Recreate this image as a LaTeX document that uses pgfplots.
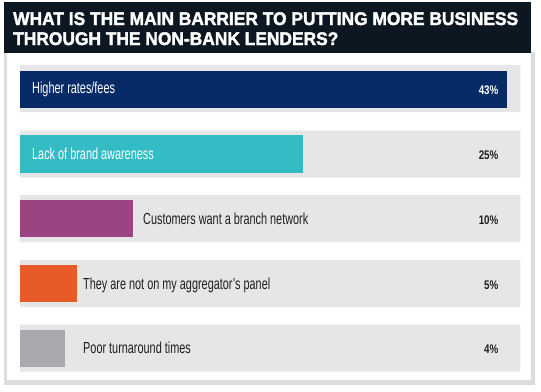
\documentclass[border=0pt]{standalone}
\usepackage{pgfplots}
\pgfplotsset{compat=1.18}
\usepackage{fontspec}
\setmainfont{Liberation Sans}
\newfontfamily\condfont[FakeStretch=0.68]{Liberation Sans}
\newfontfamily\pctfont[FakeStretch=0.78]{Liberation Sans}
\newfontfamily\titlefont[UprightFont={* Bold},FakeBold=2]{Liberation Sans}
\definecolor{headerbg}{HTML}{0C1721}
\definecolor{framegray}{HTML}{DCDCDC}
\definecolor{trackgray}{HTML}{E6E6E8}
\definecolor{cnavy}{HTML}{072B67}
\definecolor{cteal}{HTML}{33BCC4}
\definecolor{cpurple}{HTML}{9A4582}
\definecolor{corange}{HTML}{E85A27}
\definecolor{cgray}{HTML}{A8A9AD}
\definecolor{txt}{HTML}{1E1E1E}
\newsavebox\titleA
\newsavebox\titleB
\begin{document}
\sbox\titleA{\color{white}\titlefont\fontsize{18bp}{20bp}\selectfont WHAT IS THE MAIN BARRIER TO PUTTING MORE BUSINESS}%
\sbox\titleB{\color{white}\titlefont\fontsize{18bp}{20bp}\selectfont THROUGH THE NON-BANK LENDERS?}%
\pgfmathsetmacro\titlesx{505bp/\wd\titleA}%
\begin{tikzpicture}
\begin{scope}[x=1bp,y=-1bp]
\fill[white] (0,0) rectangle (541,391);
\fill[framegray] (3.5,52) rectangle (535,385);
\fill[white] (7,52) rectangle (531,380);
\fill[headerbg] (3.5,2) rectangle (531,52.5);
\node[anchor=base west, inner sep=0, text=white] at (13,25) {\scalebox{\titlesx}[1.02]{\usebox\titleA}};
\node[anchor=base west, inner sep=0, text=white] at (13,45) {\scalebox{\titlesx}[1.02]{\usebox\titleB}};
\end{scope}
\begin{axis}[at={(0,0)}, anchor=north west, width=541bp, height=391bp, scale only axis,
  xmin=-1.7668, xmax=46.025, ymin=0, ymax=391, y dir=reverse, hide axis,
  xbar, bar shift=0pt, clip=false]
\addplot[fill=trackgray, draw=none, bar width=47bp] coordinates {(44.2,88.5) (44.2,154) (44.2,218.5) (44.2,283.5) (44.2,348)};
\addplot[fill=cnavy, draw=none, bar width=37bp] coordinates {(43,89.5)};
\addplot[fill=cteal, draw=none, bar width=38bp] coordinates {(25,154)};
\addplot[fill=cpurple, draw=none, bar width=37bp] coordinates {(10,218.5)};
\addplot[fill=corange, draw=none, bar width=37bp] coordinates {(5,283.5)};
\addplot[fill=cgray, draw=none, bar width=37bp] coordinates {(4,348.5)};
\end{axis}
\begin{scope}[x=1bp,y=-1bp, every node/.style={inner sep=0}]
\node[anchor=base west, text=white, font=\condfont\fontsize{16bp}{18bp}\selectfont] at (32,93.5) {Higher rates/fees};
\node[anchor=base west, text=white, font=\condfont\fontsize{16bp}{18bp}\selectfont] at (32,159) {Lack of brand awareness};
\node[anchor=base west, text=txt, font=\condfont\fontsize{16bp}{18bp}\selectfont] at (143,224) {Customers want a branch network};
\node[anchor=base west, text=txt, font=\condfont\fontsize{16bp}{18bp}\selectfont] at (83,289) {They are not on my aggregator’s panel};
\node[anchor=base west, text=txt, font=\condfont\fontsize{16bp}{18bp}\selectfont] at (83,353.5) {Poor turnaround times};
\node[anchor=base east, text=white, font=\pctfont\bfseries\fontsize{12.5bp}{14bp}\selectfont] at (498.5,94) {43\%};
\node[anchor=base east, text=txt, font=\pctfont\bfseries\fontsize{12.5bp}{14bp}\selectfont] at (498.5,159) {25\%};
\node[anchor=base east, text=txt, font=\pctfont\bfseries\fontsize{12.5bp}{14bp}\selectfont] at (498.5,224) {10\%};
\node[anchor=base east, text=txt, font=\pctfont\bfseries\fontsize{12.5bp}{14bp}\selectfont] at (498.5,289) {5\%};
\node[anchor=base east, text=txt, font=\pctfont\bfseries\fontsize{12.5bp}{14bp}\selectfont] at (498.5,353.5) {4\%};
\end{scope}
\end{tikzpicture}
\end{document}
